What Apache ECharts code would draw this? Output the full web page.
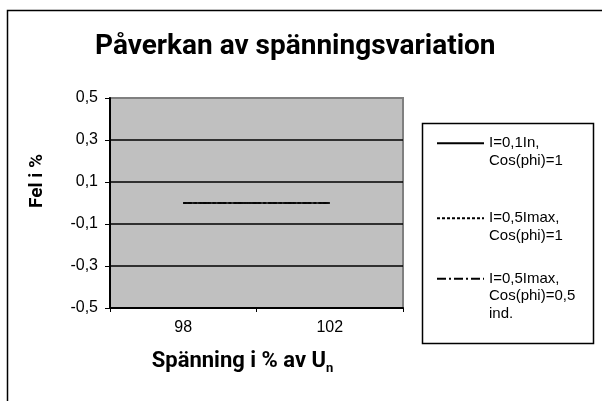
<!DOCTYPE html>
<html>
<head>
<meta charset="utf-8">
<script src="https://cdn.jsdelivr.net/npm/echarts@6/dist/echarts.min.js"></script>
<style>
  html, body { margin: 0; padding: 0; background: #fff; }
  #chart { width: 602px; height: 401px; }
</style>
</head>
<body>
<div id="chart"></div>
<script>
// kategorier (spänning i % av Un)
const categories = ['98', '102'];
// serier
const seriesNames = [
  'I=0,1In,\nCos(phi)=1',
  'I=0,5Imax,\nCos(phi)=1',
  'I=0,5Imax,\nCos(phi)=0,5\nind.'
];
const valuesA = [0, 0];
const valuesB = [0, 0];
const valuesC = [0, 0];
// y-axel
const yMin = -0.5;
const yMax = 0.5;
const yStep = 0.2;

const dashTypes = ['solid', [3, 2], [9, 3, 2, 3]];
const allValues = [valuesA, valuesB, valuesC];
const legendTops = [117, 192, 235];

// lägg till tomma rader så att ikonen hamnar vid första raden
function padName(name) {
  const n = name.split('\n').length;
  return '\n'.repeat(n - 1) + name;
}

const chart = echarts.init(document.getElementById('chart'));

const option = {
  backgroundColor: '#fff',
  animation: false,
  title: {
    text: 'Påverkan av spänningsvariation',
    left: 90,
    top: 28,
    textStyle: { fontFamily: 'Roboto', fontWeight: 'bold', fontSize: 28, color: '#000' }
  },
  graphic: [
    { type: 'rect', shape: { x: 7.5, y: 10.5, width: 700, height: 500 },
      style: { fill: 'none', stroke: '#000', lineWidth: 1.5 }, z: 100 },
    { type: 'rect', shape: { x: 422.5, y: 123.5, width: 171, height: 220 },
      style: { fill: 'none', stroke: '#000', lineWidth: 1.5 }, z: 100 }
  ],
  legend: seriesNames.map((name, i) => ({
    data: [name],
    left: 436,
    top: legendTops[i],
    padding: 0,
    itemWidth: 47,
    itemHeight: 14,
    selectedMode: false,
    formatter: padName,
    itemStyle: { color: 'rgba(0,0,0,0)', borderWidth: 0 },
    textStyle: { fontFamily: 'Liberation Sans', fontSize: 15, lineHeight: 17.5, color: '#000' }
  })),
  grid: {
    left: 110, top: 98, right: 199, bottom: 93,
    show: true,
    backgroundColor: '#c0c0c0',
    borderColor: '#808080',
    borderWidth: 2
  },
  xAxis: {
    type: 'category',
    data: categories,
    boundaryGap: true,
    name: 'Spänning i % av U{sub|n}',
    nameLocation: 'middle',
    nameGap: 39,
    nameTextStyle: {
      fontFamily: 'Roboto', fontWeight: 'bold', fontSize: 22, color: '#000',
      padding: [0, 28, 0, 0],
      rich: { sub: { fontFamily: 'Roboto', fontWeight: 'bold', fontSize: 13, color: '#000', verticalAlign: 'bottom', padding: [15, 0, 0, 0] } }
    },
    axisLine: { onZero: false, lineStyle: { color: '#000', width: 2 } },
    axisTick: { show: true, length: 4, lineStyle: { color: '#000' } },
    axisLabel: { fontFamily: 'Liberation Sans', fontSize: 16, color: '#000', margin: 12 },
    splitLine: { show: false }
  },
  yAxis: {
    type: 'value',
    min: yMin,
    max: yMax,
    interval: yStep,
    name: 'Fel i %',
    nameLocation: 'middle',
    nameGap: 63,
    nameTextStyle: {
      fontFamily: 'Roboto', fontWeight: 'bold', fontSize: 19, color: '#000',
      padding: [0, 0, 0, 44]
    },
    axisLine: { show: true, lineStyle: { color: '#000', width: 2 } },
    axisTick: { show: true, length: 5, lineStyle: { color: '#000' } },
    axisLabel: {
      fontFamily: 'Liberation Sans', fontSize: 16, color: '#000', margin: 12,
      formatter: v => v.toFixed(1).replace('.', ',')
    },
    splitLine: { show: true, lineStyle: { color: ['#000', '#000', '#000', '#000', '#000', '#808080'], width: 1.5 } }
  },
  series: seriesNames.map((name, i) => ({
    name: name,
    type: 'line',
    data: allValues[i],
    symbol: 'none',
    lineStyle: { color: '#000', width: 1.5, type: dashTypes[i] },
    itemStyle: { color: '#000' },
    z: 3 - i
  }))
};

chart.setOption(option);
</script>
</body>
</html>
